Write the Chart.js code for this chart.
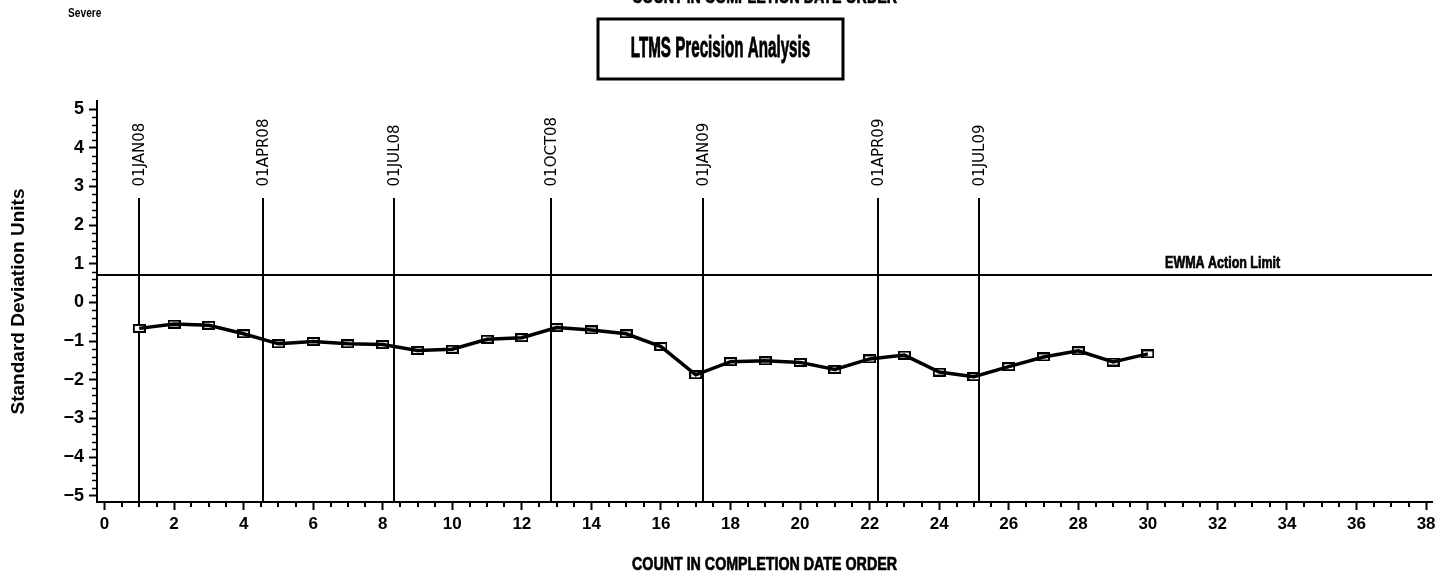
<!DOCTYPE html>
<html>
<head>
<meta charset="utf-8">
<script src="https://cdn.jsdelivr.net/npm/chart.js@4.4.1/dist/chart.umd.min.js"></script>
<style>
  html, body { margin: 0; padding: 0; background: #fff; overflow: hidden; }
  #wrap { position: relative; width: 1455px; height: 575px; }
</style>
</head>
<body>
<div id="wrap"><canvas id="ewmaChart"></canvas></div>
<script>
// dados
const counts = [1, 2, 3, 4, 5, 6, 7, 8, 9, 10, 11, 12, 13, 14, 15, 16, 17, 18, 19, 20, 21, 22, 23, 24, 25, 26, 27, 28, 29, 30];
const ewmaValues = [-0.67, -0.56, -0.59, -0.81, -1.07, -1.01, -1.07, -1.09, -1.24, -1.21,
                    -0.95, -0.91, -0.65, -0.71, -0.81, -1.14, -1.87, -1.53, -1.51, -1.55,
                    -1.73, -1.46, -1.36, -1.80, -1.92, -1.66, -1.41, -1.25, -1.54, -1.33];
const xTicks = [0, 2, 4, 6, 8, 10, 12, 14, 16, 18, 20, 22, 24, 26, 28, 30, 32, 34, 36, 38];
const yTicks = [-5, -4, -3, -2, -1, 0, 1, 2, 3, 4, 5];
const actionLimit = 0.72;
const dateMarkers = [1.0, 4.57, 8.31, 12.83, 17.21, 22.25, 25.15];
const dateLabels = ['01JAN08', '01APR08', '01JUL08', '01OCT08', '01JAN09', '01APR09', '01JUL09'];

const SANS = '"Liberation Sans", Arial, sans-serif';

// marcador retangular vazado
function makeMarker() {
    const c = document.createElement('canvas');
    c.width = 13; c.height = 9;
    const g = c.getContext('2d');
    g.fillStyle = '#fff';
    g.fillRect(1, 1, 11, 7);
    g.strokeStyle = '#000';
    g.lineWidth = 2;
    g.strokeRect(1, 1, 11, 7);
    return c;
}

// texto bold comprimido na horizontal (fonte SAS condensada)
function squeezedText(ctx, text, x, y, size, sx, sy, baseline) {
    ctx.save();
    ctx.translate(x, y);
    ctx.scale(sx, sy);
    ctx.font = 'bold ' + size + 'px ' + SANS;
    ctx.textAlign = 'center';
    ctx.textBaseline = baseline;
    ctx.lineWidth = 0.7;
    ctx.fillText(text, 0, 0);
    ctx.strokeText(text, 0, 0);
    ctx.restore();
}

const refLines = {
    id: 'refLines',
    beforeDatasetsDraw(chart) {
        const { ctx, chartArea, scales: { x, y } } = chart;
        ctx.save();
        ctx.strokeStyle = '#000';
        ctx.fillStyle = '#000';
        ctx.lineWidth = 2;

        // limite de ação EWMA
        const yLim = Math.round(y.getPixelForValue(actionLimit));
        ctx.beginPath();
        ctx.moveTo(chartArea.left, yLim);
        ctx.lineTo(chartArea.right, yLim);
        ctx.stroke();
        squeezedText(ctx, 'EWMA Action Limit', x.getPixelForValue(32.15), yLim - 7, 16, 0.78, 1, 'alphabetic');

        // linhas das datas
        const yTop = y.getPixelForValue(2.7);
        const yText = y.getPixelForValue(3.0);
        ctx.font = '15px "DejaVu Sans", sans-serif';
        dateMarkers.forEach((v, i) => {
            const px = Math.round(x.getPixelForValue(v));
            ctx.beginPath();
            ctx.moveTo(px, yTop);
            ctx.lineTo(px, chartArea.bottom);
            ctx.stroke();
            ctx.save();
            ctx.translate(px + 1, yText);
            ctx.rotate(-Math.PI / 2);
            ctx.textAlign = 'left';
            ctx.textBaseline = 'middle';
            ctx.fillText(dateLabels[i], 0, 0);
            ctx.restore();
        });
        ctx.restore();
    },
    afterDraw(chart) {
        const { ctx, chartArea, scales: { x, y } } = chart;
        ctx.save();
        ctx.strokeStyle = '#000';
        ctx.fillStyle = '#000';

        // ticks menores
        ctx.lineWidth = 2;
        ctx.beginPath();
        for (let i = 0; i <= 76; i++) {
            if (i % 4 === 0) continue;
            const px = Math.round(x.getPixelForValue(i / 2));
            ctx.moveTo(px, chartArea.bottom);
            ctx.lineTo(px, chartArea.bottom + 5);
        }
        ctx.stroke();
        ctx.lineWidth = 1.5;
        ctx.beginPath();
        for (let i = -25; i <= 25; i++) {
            if (i % 5 === 0) continue;
            const py = Math.round(y.getPixelForValue(i / 5)) + 0.5;
            ctx.moveTo(chartArea.left - 5, py);
            ctx.lineTo(chartArea.left, py);
        }
        ctx.stroke();

        // caixa do título
        ctx.lineWidth = 3;
        ctx.strokeRect(598, 19, 245, 60);
        squeezedText(ctx, 'LTMS Precision Analysis', 720.5, 49, 23, 0.66, 1.25, 'middle');

        // títulos do eixo x (o de cima sai cortado)
        const cx = (chartArea.left + chartArea.right) / 2;
        squeezedText(ctx, 'COUNT IN COMPLETION DATE ORDER', cx, 570, 19, 0.75, 1, 'alphabetic');
        squeezedText(ctx, 'COUNT IN COMPLETION DATE ORDER', cx, 3, 19, 0.75, 1, 'alphabetic');

        ctx.font = 'bold 12px ' + SANS;
        ctx.save();
        ctx.translate(68, 17);
        ctx.scale(0.85, 1);
        ctx.textAlign = 'left';
        ctx.fillText('Severe', 0, 0);
        ctx.restore();
        ctx.restore();
    }
};

document.addEventListener('DOMContentLoaded', function() {
    const marker = makeMarker();
    const points = counts.map((c, i) => ({ x: c, y: ewmaValues[i] }));

    new Chart(document.getElementById('ewmaChart').getContext('2d'), {
        type: 'line',
        data: {
            datasets: [{
                data: points,
                showLine: false,
                pointStyle: marker,
                pointRadius: 5,
                order: 2
            }, {
                data: points,
                borderColor: '#000',
                borderWidth: 3.5,
                pointRadius: 0,
                tension: 0,
                fill: false,
                order: 1
            }]
        },
        options: {
            responsive: true,
            maintainAspectRatio: false,
            animation: false,
            layout: { padding: { left: 0, top: 101, right: 23, bottom: 0 } },
            plugins: { legend: { display: false }, tooltip: { enabled: false } },
            scales: {
                x: {
                    type: 'linear',
                    min: -0.216,
                    max: 38.17,
                    afterBuildTicks: s => { s.ticks = xTicks.map(v => ({ value: v })); },
                    afterFit: s => { s.height = 73; },
                    grid: { drawOnChartArea: false, tickLength: 8, tickWidth: 2, tickColor: '#000' },
                    border: { color: '#000', width: 2 },
                    ticks: {
                        color: '#000', padding: 4, maxRotation: 0, autoSkip: false,
                        font: { family: SANS, size: 17, weight: 'bold' }
                    },
                    title: { display: false }
                },
                y: {
                    min: -5.16,
                    max: 5.21,
                    afterBuildTicks: s => { s.ticks = yTicks.map(v => ({ value: v })); },
                    afterFit: s => { s.width = 97; },
                    grid: { drawOnChartArea: false, tickLength: 8, tickWidth: 2, tickColor: '#000' },
                    border: { color: '#000', width: 2 },
                    ticks: {
                        color: '#000', padding: 5,
                        font: { family: SANS, size: 18, weight: 'bold' },
                        callback: v => String(v).replace('-', '\u2212')
                    },
                    title: {
                        display: true, text: 'Standard Deviation Units', color: '#000',
                        font: { family: SANS, size: 19, weight: 'bold' },
                        padding: { top: 7, bottom: 0 }
                    }
                }
            }
        },
        plugins: [refLines]
    });
});
</script>
</body>
</html>
